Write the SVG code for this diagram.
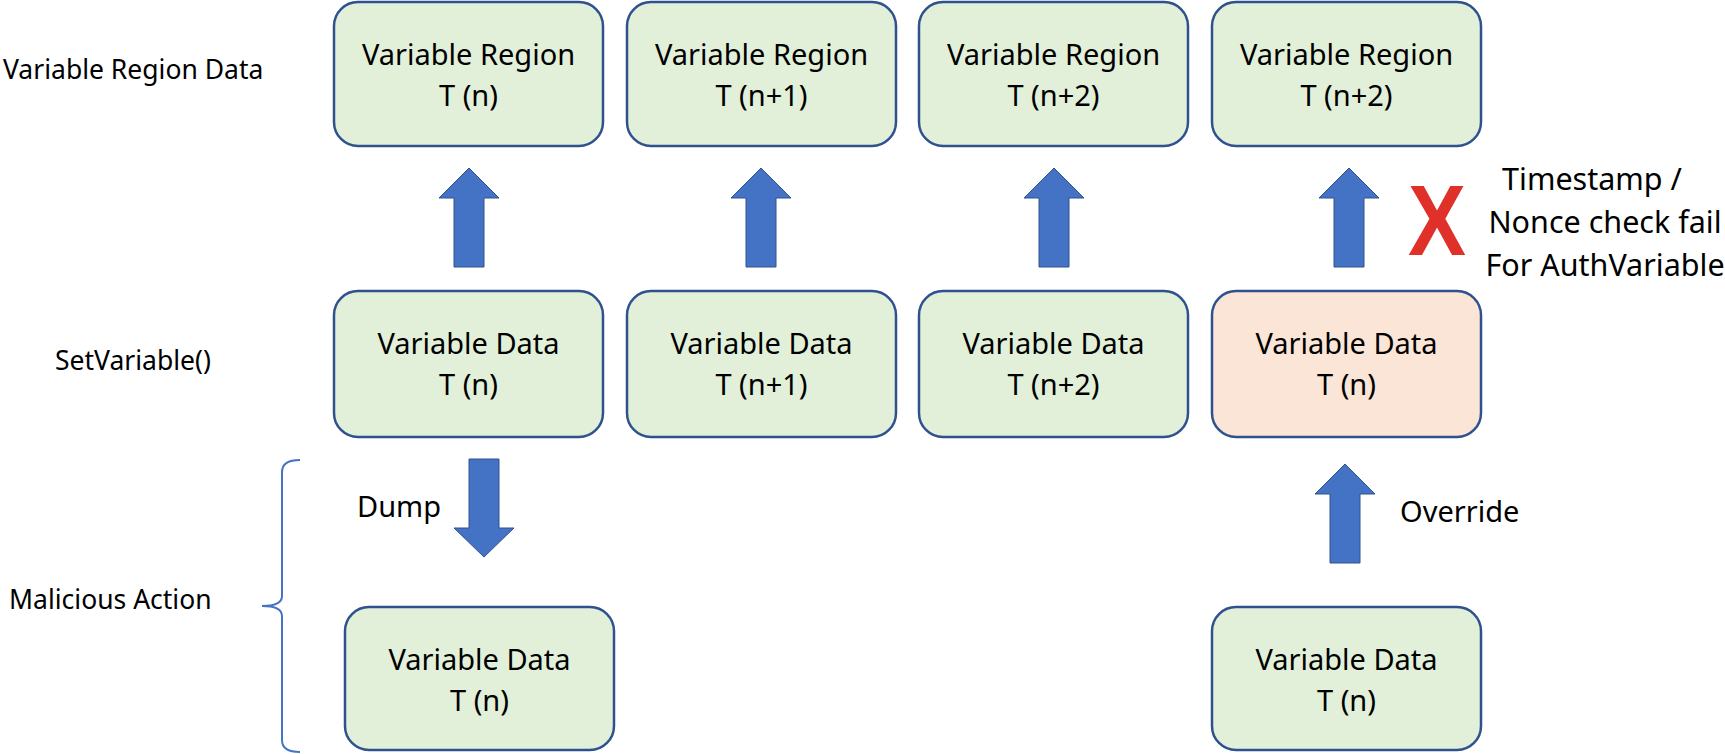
<svg xmlns="http://www.w3.org/2000/svg" width="1725" height="754" viewBox="0 0 1725 754">
<style>
.box{fill:#E2F0D9;stroke:#2F528F;stroke-width:2.5}
.pink{fill:#FBE5D6}
.t{font-family:"Noto Sans","Open Sans",sans-serif;font-size:29px;fill:#000}
.l{font-size:26.5px}
.r{font-size:30.5px}
.c{text-anchor:middle}
.arr{fill:#4472C4;stroke:#2F528F;stroke-width:1}
</style>
<rect width="1725" height="754" fill="#fff"/>
<g id="labels">
<text class="t l" x="3" y="79">Variable Region Data</text>
<text class="t l" x="55" y="370">SetVariable()</text>
<text class="t l" x="9" y="609">Malicious Action</text>
</g>
<g id="region-n"><rect class="box" x="334" y="2" width="269" height="144" rx="24"/><text class="t c" x="468.5" y="65">Variable Region</text><text class="t c" x="468.5" y="106">T (n)</text></g>
<g id="region-n1"><rect class="box" x="627" y="2" width="269" height="144" rx="24"/><text class="t c" x="761.5" y="65">Variable Region</text><text class="t c" x="761.5" y="106">T (n+1)</text></g>
<g id="region-n2"><rect class="box" x="919" y="2" width="269" height="144" rx="24"/><text class="t c" x="1053.5" y="65">Variable Region</text><text class="t c" x="1053.5" y="106">T (n+2)</text></g>
<g id="region-n2b"><rect class="box" x="1212" y="2" width="269" height="144" rx="24"/><text class="t c" x="1346.5" y="65">Variable Region</text><text class="t c" x="1346.5" y="106">T (n+2)</text></g>
<g id="data-n"><rect class="box" x="334" y="291" width="269" height="146" rx="24"/><text class="t c" x="468.5" y="354">Variable Data</text><text class="t c" x="468.5" y="395">T (n)</text></g>
<g id="data-n1"><rect class="box" x="627" y="291" width="269" height="146" rx="24"/><text class="t c" x="761.5" y="354">Variable Data</text><text class="t c" x="761.5" y="395">T (n+1)</text></g>
<g id="data-n2"><rect class="box" x="919" y="291" width="269" height="146" rx="24"/><text class="t c" x="1053.5" y="354">Variable Data</text><text class="t c" x="1053.5" y="395">T (n+2)</text></g>
<g id="data-override"><rect class="box pink" x="1212" y="291" width="269" height="146" rx="24"/><text class="t c" x="1346.5" y="354">Variable Data</text><text class="t c" x="1346.5" y="395">T (n)</text></g>
<g id="dump-n"><rect class="box" x="345" y="607" width="269" height="143" rx="24"/><text class="t c" x="479.5" y="670">Variable Data</text><text class="t c" x="479.5" y="711">T (n)</text></g>
<g id="attacker-n"><rect class="box" x="1212" y="607" width="269" height="143" rx="24"/><text class="t c" x="1346.5" y="670">Variable Data</text><text class="t c" x="1346.5" y="711">T (n)</text></g>
<g id="connectors">
<polygon class="arr" points="469,168 499,198 484,198 484,267 454,267 454,198 439,198"/>
<polygon class="arr" points="761,168 791,198 776,198 776,267 746,267 746,198 731,198"/>
<polygon class="arr" points="1054,168 1084,198 1069,198 1069,267 1039,267 1039,198 1024,198"/>
<polygon class="arr" points="1349,168 1379,198 1364,198 1364,267 1334,267 1334,198 1319,198"/>
<polygon class="arr" points="469,459 499,459 499,528 514,528 484,557 454,528 469,528"/>
<polygon class="arr" points="1345,464 1375,494 1360,494 1360,563 1330,563 1330,494 1315,494"/>
<path d="M300,460 Q282,460 282,472 L282,596 Q282,606 262,606 Q282,606 282,616 L282,740 Q282,752 300,752" fill="none" stroke="#4472C4" stroke-width="2"/>
</g>
<g id="annotations">
<text class="t" x="357" y="517">Dump</text>
<text class="t" x="1400" y="522">Override</text>
<text x="1437" y="255" text-anchor="middle" font-family="'Liberation Sans',Arial,sans-serif" font-weight="bold" font-size="100" fill="#E0302A" textLength="58" lengthAdjust="spacingAndGlyphs">X</text>
<text class="t r c" x="1592" y="190">Timestamp /</text>
<text class="t r c" x="1605" y="233">Nonce check fail</text>
<text class="t r c" x="1605" y="276">For AuthVariable</text>
</g>
</svg>
